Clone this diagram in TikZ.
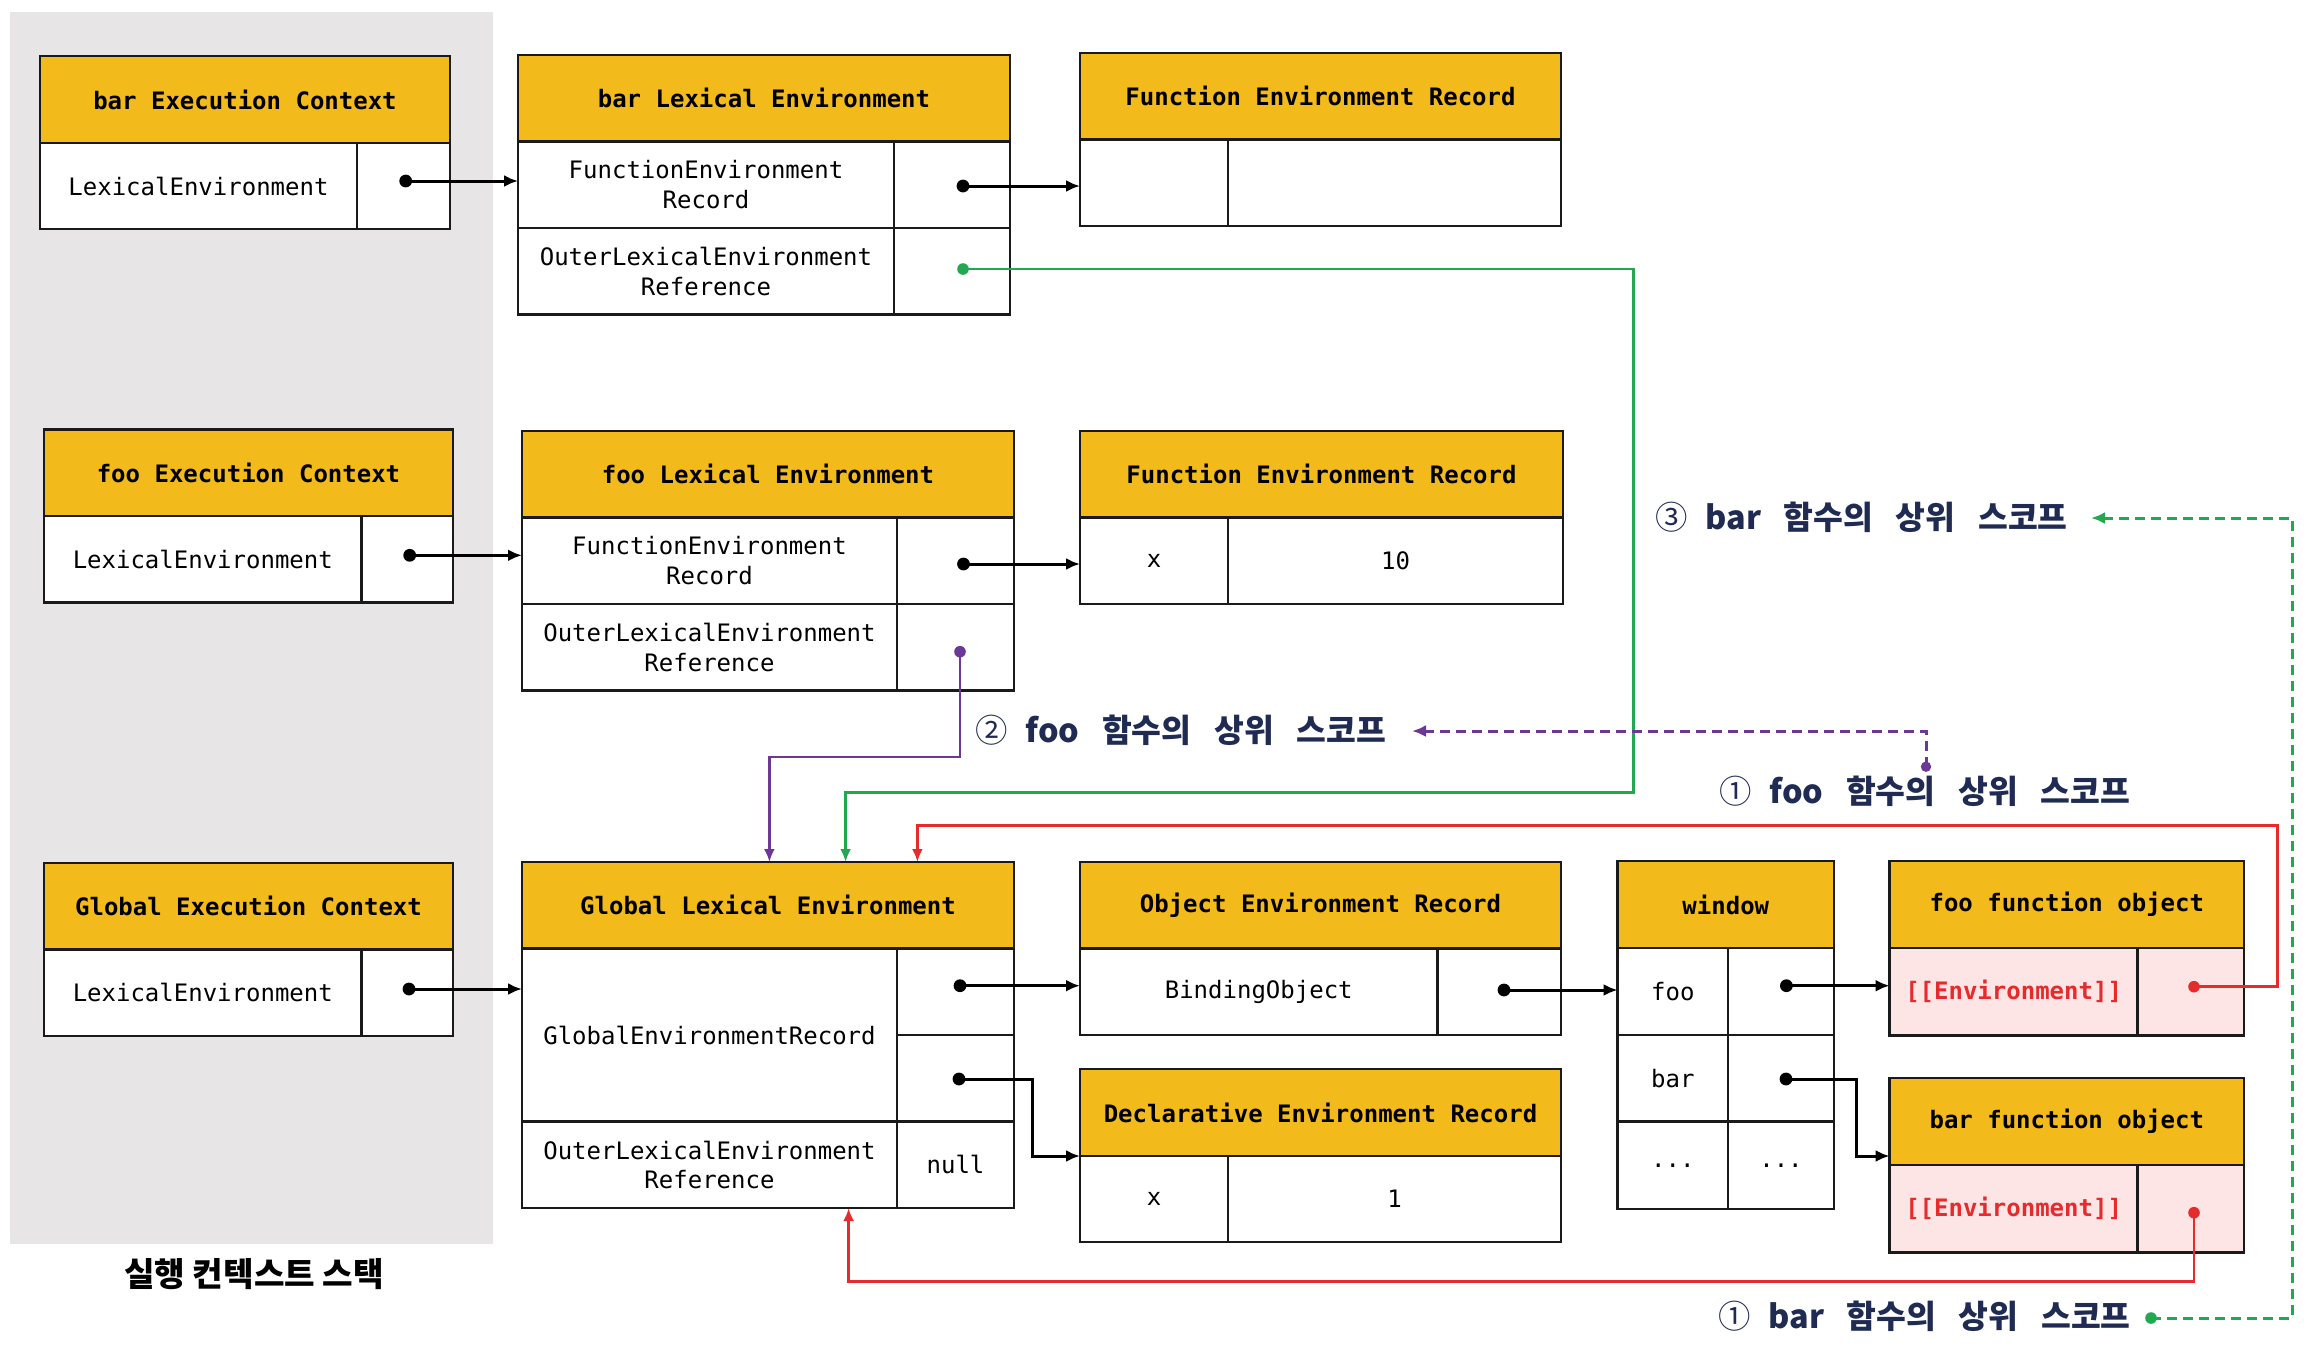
\documentclass[tikz,border=0pt]{standalone}
\usepackage{fontspec}
\setmonofont{DejaVu Sans Mono}
\newfontfamily\krfont{Noto Sans CJK KR}
\usetikzlibrary{arrows.meta}
\definecolor{hdrY}{HTML}{F3BA1B}
\definecolor{grayBG}{HTML}{E7E5E6}
\definecolor{pinkC}{HTML}{FDE5E5}
\definecolor{redC}{HTML}{E52B2B}
\definecolor{greenC}{HTML}{22A94F}
\definecolor{purpleC}{HTML}{6B3896}
\definecolor{navyC}{HTML}{1F2B53}
\definecolor{lineC}{HTML}{1A1A1A}
\newcommand\mkcell[7][]{\node[cellbox,#1,minimum width={((#5)-(#3))*0.5pt},minimum height={((#6)-(#4))*0.5pt}] (#2) at ({((#3)+(#5))/2},{((#4)+(#6))/2}) {#7};}
\newcommand\ws{\hspace{0.7em}}
\newcommand\scopelab[2]{{\mdseries #1}\hspace{0.55em}#2\ws 함수의\ws 상위\ws 스코프}
\tikzset{
  cellbox/.style={draw=lineC, line width=1.25pt, fill=white, inner sep=0pt, outer sep=0pt,
    font={\ttfamily\fontsize{12}{14.75}\selectfont}, align=center, text=black},
  hdr/.style={fill=hdrY, font={\ttfamily\bfseries\fontsize{12}{14.75}\selectfont}},
  pinkcell/.style={fill=pinkC, text=redC, font={\ttfamily\bfseries\fontsize{12}{14.75}\selectfont}},
  pinkv/.style={fill=pinkC},
  ptr/.style={draw=black, line width=1.5pt, -{Latex[length=7pt,width=6pt]}},
  dotb/.style={fill=black},
  gline/.style={draw=greenC, line width=1.4pt, -{Latex[length=6.5pt,width=5.5pt]}},
  pline/.style={draw=purpleC, line width=1.4pt, -{Latex[length=6.5pt,width=5.5pt]}},
  rline/.style={draw=redC, line width=1.4pt, -{Latex[length=6.5pt,width=5.5pt]}},
  gdash/.style={draw=greenC, line width=1.5pt, dash pattern=on 4.8pt off 3.2pt, -{Latex[length=7pt,width=6pt]}},
  pdash/.style={draw=purpleC, line width=1.5pt, dash pattern=on 4.8pt off 3.2pt, -{Latex[length=7pt,width=6pt]}},
  scope label/.style={font={\krfont\bfseries\fontsize{16.2}{19}\selectfont}, text=navyC, inner sep=0pt, anchor=west},
}
\begin{document}
\begin{tikzpicture}[x=0.5pt,y=-0.5pt]
\useasboundingbox (0,0) rectangle (2314,1350);
\fill[grayBG] (10,12) rectangle (493,1244);
\node[font={\krfont\bfseries\fontsize{16.6}{19}\selectfont}, inner sep=0pt] (stacklab) at (254,1274) {실행 컨텍스트 스택};

% bar Execution Context
\mkcell[hdr]{barECh}{40}{56}{450}{143}{bar Execution Context}
\mkcell{barEC1}{40}{143}{357}{229}{LexicalEnvironment}
\mkcell{barEC1v}{357}{143}{450}{229}{}
% bar Lexical Environment
\mkcell[hdr]{barLEh}{518}{55}{1010}{141.5}{bar Lexical Environment}
\mkcell{barLE1}{518}{141.5}{894}{228}{FunctionEnvironment\\Record}
\mkcell{barLE1v}{894}{141.5}{1010}{228}{}
\mkcell{barLE2}{518}{228}{894}{314.5}{OuterLexicalEnvironment\\Reference}
\mkcell{barLE2v}{894}{228}{1010}{314.5}{}
% Function Environment Record (bar)
\mkcell[hdr]{ferAh}{1080}{53}{1561}{139.5}{Function Environment Record}
\mkcell{ferA1}{1080}{139.5}{1228}{226}{}
\mkcell{ferA2}{1228}{139.5}{1561}{226}{}

% foo Execution Context
\mkcell[hdr]{fooECh}{44}{429.5}{453}{516}{foo Execution Context}
\mkcell{fooEC1}{44}{516}{361.6}{602.5}{LexicalEnvironment}
\mkcell{fooEC1v}{361.6}{516}{453}{602.5}{}
% foo Lexical Environment
\mkcell[hdr]{fooLEh}{522}{431}{1014}{517.5}{foo Lexical Environment}
\mkcell{fooLE1}{522}{517.5}{897}{604}{FunctionEnvironment\\Record}
\mkcell{fooLE1v}{897}{517.5}{1014}{604}{}
\mkcell{fooLE2}{522}{604}{897}{690.5}{OuterLexicalEnvironment\\Reference}
\mkcell{fooLE2v}{897}{604}{1014}{690.5}{}
% Function Environment Record (foo)
\mkcell[hdr]{ferBh}{1080}{431}{1563}{517.5}{Function Environment Record}
\mkcell{ferB1}{1080}{517.5}{1228}{604}{x}
\mkcell{ferB2}{1228}{517.5}{1563}{604}{10}

% Global Execution Context
\mkcell[hdr]{gECh}{44}{863}{453}{949.5}{Global Execution Context}
\mkcell{gEC1}{44}{949.5}{361.6}{1036}{LexicalEnvironment}
\mkcell{gEC1v}{361.6}{949.5}{453}{1036}{}
% Global Lexical Environment
\mkcell[hdr]{gLEh}{522}{862}{1014}{948.5}{Global Lexical Environment}
\mkcell{gLE1}{522}{948.5}{897}{1121.5}{GlobalEnvironmentRecord}
\mkcell{gLE1a}{897}{948.5}{1014}{1035}{}
\mkcell{gLE1b}{897}{1035}{1014}{1121.5}{}
\mkcell{gLE2}{522}{1121.5}{897}{1208}{OuterLexicalEnvironment\\Reference}
\mkcell{gLE2v}{897}{1121.5}{1014}{1208}{null}
% Object Environment Record
\mkcell[hdr]{objh}{1080}{862}{1561}{948.5}{Object Environment Record}
\mkcell{obj1}{1080}{948.5}{1437.5}{1035}{BindingObject}
\mkcell{obj1v}{1437.5}{948.5}{1561}{1035}{}
% Declarative Environment Record
\mkcell[hdr]{dech}{1080}{1069}{1561}{1156}{Declarative Environment Record}
\mkcell{dec1}{1080}{1156}{1228}{1242}{x}
\mkcell{dec2}{1228}{1156}{1561}{1242}{1}
% window
\mkcell[hdr]{winh}{1617.6}{861}{1834}{948}{window}
\mkcell{win1}{1617.6}{948}{1728}{1035}{foo}
\mkcell{win1v}{1728}{948}{1834}{1035}{}
\mkcell{win2}{1617.6}{1035}{1728}{1121.7}{bar}
\mkcell{win2v}{1728}{1035}{1834}{1121.7}{}
\mkcell{win3}{1617.6}{1121.7}{1728}{1209}{...}
\mkcell{win3v}{1728}{1121.7}{1834}{1209}{...}
% foo function object
\mkcell[hdr]{fooFOh}{1889.6}{861}{2244}{948}{foo function object}
\mkcell[pinkcell]{fooFO1}{1889.6}{948}{2137.6}{1035.5}{[[Environment]]}
\mkcell[pinkv]{fooFO1v}{2137.6}{948}{2244}{1035.5}{}
% bar function object
\mkcell[hdr]{barFOh}{1889.6}{1078}{2244}{1165}{bar function object}
\mkcell[pinkcell]{barFO1}{1889.6}{1165}{2137.6}{1252.5}{[[Environment]]}
\mkcell[pinkv]{barFO1v}{2137.6}{1165}{2244}{1252.5}{}

% scope labels
\node[scope label] (lab3) at (1655,517.5) {\scopelab{③}{bar}};
\node[scope label] (lab2) at (975,730.5) {\scopelab{②}{foo}};
\node[scope label] (lab1f) at (1719,791.7) {\scopelab{①}{foo}};
\node[scope label] (lab1b) at (1718,1316.7) {\scopelab{①}{bar}};

% dot coordinates
\coordinate (dBarEC) at (405.7,181);
\coordinate (dBarLE1) at (963,186);
\coordinate (dBarLE2) at (963,269);
\coordinate (dFooEC) at (409.7,555.3);
\coordinate (dFooLE1) at (963.5,564);
\coordinate (dFooLE2) at (960,651.7);
\coordinate (dGEC) at (409,989);
\coordinate (dGLEa) at (960,985.7);
\coordinate (dGLEb) at (959,1079);
\coordinate (dObj) at (1504,990);
\coordinate (dWinFoo) at (1786.4,985.7);
\coordinate (dWinBar) at (1786,1079);
\coordinate (dFooFO) at (2194,986.7);
\coordinate (dBarFO) at (2194,1212.7);
\coordinate (dP) at (1926,766.7);
\coordinate (dG) at (2151,1318);
% turning points
\coordinate (gTurn) at (1633.6,792.7);
\coordinate (gIn) at (845.6,792.7);
\coordinate (pIn) at (769.4,757);
\coordinate (rTurn) at (2277.6,825.7);
\coordinate (rIn) at (917.4,825.7);
\coordinate (rB) at (848.6,1281.7);
\coordinate (kGL) at (1032,1156);
\coordinate (kWB) at (1856,1156);
\coordinate (pTop) at (1926,731);
\coordinate (pArr) at (1412,731);
\coordinate (gR) at (2292,1318);
\coordinate (gTop) at (2292,518);
\coordinate (gArr) at (2091,518);

% black pointers
\draw[ptr] (dBarEC) -- (dBarEC -| barLE1.west);
\draw[ptr] (dBarLE1) -- (dBarLE1 -| ferA1.west);
\draw[ptr] (dFooEC) -- (dFooEC -| fooLE1.west);
\draw[ptr] (dFooLE1) -- (dFooLE1 -| ferB1.west);
\draw[ptr] (dGEC) -- (dGEC -| gLE1.west);
\draw[ptr] (dGLEa) -- (dGLEa -| obj1.west);
\draw[ptr] (dGLEb) -| (kGL) -- (dech.south west);
\draw[ptr] (dObj) -- (dObj -| win1.west);
\draw[ptr] (dWinFoo) -- (dWinFoo -| fooFO1.west);
\draw[ptr] (dWinBar) -| (kWB) -- (kWB -| barFOh.west);
\foreach \d in {dBarEC,dBarLE1,dFooEC,dFooLE1,dGEC,dGLEa,dGLEb,dObj,dWinFoo,dWinBar}
  \fill[dotb] (\d) circle (3.2pt);

% coloured outer references
\draw[gline] (dBarLE2) -| (gTurn) -- (gIn) -- (gIn |- gLEh.north);
\fill[greenC] (dBarLE2) circle (2.9pt);
\draw[pline] (dFooLE2) |- (pIn) -- (pIn |- gLEh.north);
\fill[purpleC] (dFooLE2) circle (2.9pt);
\draw[rline] (dFooFO) -| (rTurn) -- (rIn) -- (rIn |- gLEh.north);
\fill[redC] (dFooFO) circle (2.9pt);
\draw[rline] (dBarFO) |- (rB) -- (rB |- gLE2.south);
\fill[redC] (dBarFO) circle (2.9pt);

% dashed scope pointers
\draw[pdash] (dP) -- (pTop) -- (pArr);
\fill[purpleC] (dP) circle (2.6pt);
\draw[gdash] (dG) -- (gR) -- (gTop) -- (gArr);
\fill[greenC] (dG) circle (2.9pt);
\end{tikzpicture}
\end{document}
